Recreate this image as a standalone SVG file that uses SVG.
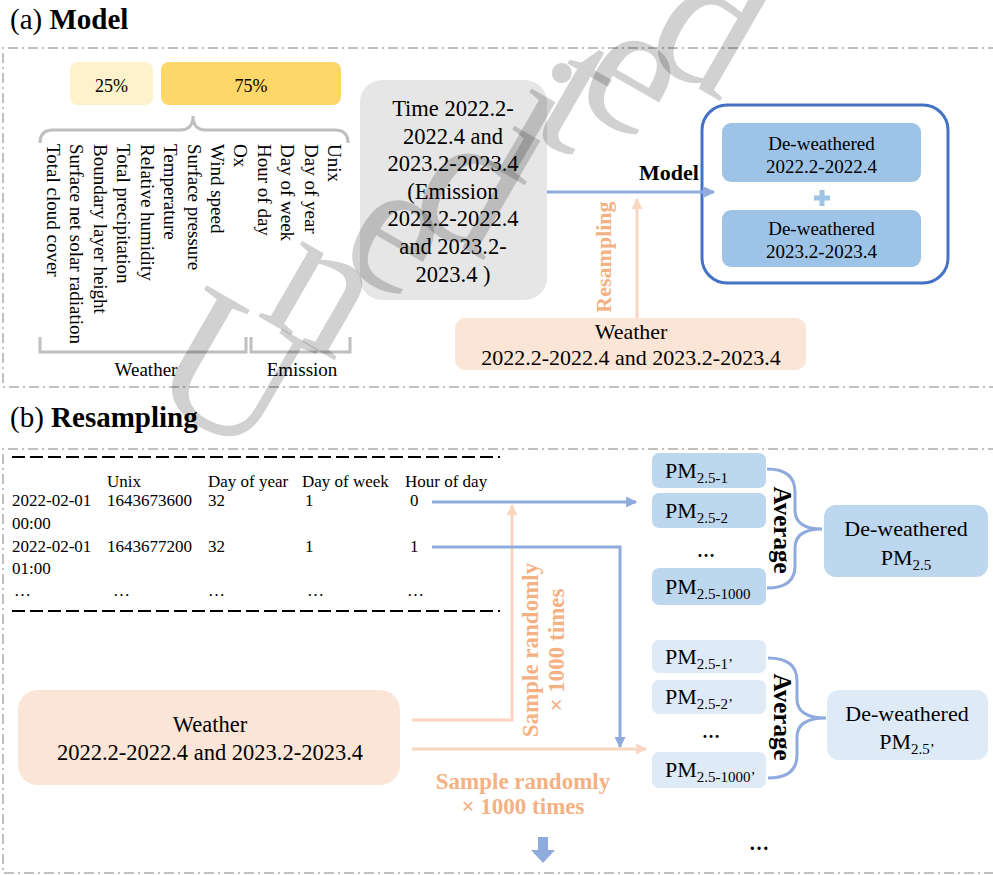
<svg xmlns="http://www.w3.org/2000/svg" width="993" height="875" viewBox="0 0 993 875" font-family="'Liberation Serif','Times New Roman',serif">
<defs>
<style>
text{font-family:"Liberation Serif","Times New Roman",serif;fill:#000}
.b{font-weight:bold}
.frame{fill:none;stroke:#c0c0c0;stroke-width:2;stroke-dasharray:10 4 2 4}
.gbr{fill:none;stroke:#bfbfbf;stroke-width:3}
.blue{fill:none;stroke:#8faadc;stroke-width:3}
.peach{fill:none;stroke:#f9d6c0;stroke-width:3}
.ptxt{fill:#f4b183;font-weight:bold}
.pm1{fill:#bdd7ee}
.pm2{fill:#deebf7}
.tbl{font-size:17px}
.col{font-size:19px}
.pm{font-size:22px}
.sub{font-size:15px}
</style>
<marker id="ab" viewBox="0 0 10 10" refX="9" refY="5" markerUnits="userSpaceOnUse" markerWidth="12" markerHeight="11" orient="auto"><path d="M0,0 L10,5 L0,10 z" fill="#8faadc"/></marker>
<marker id="ap" viewBox="0 0 10 10" refX="9" refY="5" markerUnits="userSpaceOnUse" markerWidth="12" markerHeight="11" orient="auto"><path d="M0,0 L10,5 L0,10 z" fill="#f9d6c0"/></marker>
</defs>
<rect width="993" height="875" fill="#fff"/>

<!-- Section (a) -->
<g id="title-a"><text x="10" y="29" font-size="29">(a) <tspan class="b">Model</tspan></text></g>
<path class="frame" d="M998,48 H3 V387 H998"/>

<g id="share-25"><rect x="70" y="62" width="83" height="43" rx="8" fill="#fef2cc"/><text x="111.5" y="92" font-size="18" text-anchor="middle">25%</text></g>
<g id="share-75"><rect x="161" y="62" width="180" height="43" rx="8" fill="#fdd868"/><text x="251" y="92" font-size="18" text-anchor="middle">75%</text></g>
<g id="brace-top"><path class="gbr" d="M40,143 Q40,130 53,130 L180,130 Q193,130 193,116 Q193,130 206,130 L335,130 Q348,130 348,143"/></g>

<g id="variables" class="col">
<text transform="translate(47,144) rotate(90)">Total cloud cover</text>
<text transform="translate(70.4,144) rotate(90)">Surface net solar radiation</text>
<text transform="translate(93.8,144) rotate(90)">Boundary layer height</text>
<text transform="translate(117.3,144) rotate(90)">Total precipitation</text>
<text transform="translate(140.7,144) rotate(90)">Relative humidity</text>
<text transform="translate(164.1,144) rotate(90)">Temperature</text>
<text transform="translate(187.5,144) rotate(90)">Surface pressure</text>
<text transform="translate(210.9,144) rotate(90)">Wind speed</text>
<text transform="translate(234.3,144) rotate(90)">Ox</text>
<text transform="translate(257.8,144) rotate(90)">Hour of day</text>
<text transform="translate(281.2,144) rotate(90)">Day of week</text>
<text transform="translate(304.6,144) rotate(90)">Day of year</text>
<text transform="translate(328,144) rotate(90)">Unix</text>
</g>
<g id="bracket-weather"><path class="gbr" d="M40,337 V352 H246 V337"/><text x="146" y="376" font-size="19" text-anchor="middle">Weather</text></g>
<g id="bracket-emission"><path class="gbr" d="M251,337 V352 H350 V337"/><text x="302" y="376" font-size="19" text-anchor="middle">Emission</text></g>

<g id="time-box"><rect x="360" y="80" width="187" height="220" rx="22" fill="#e7e6e6"/>
<g font-size="22.5" text-anchor="middle">
<text x="453" y="116">Time 2022.2-</text>
<text x="453" y="143.6">2022.4 and</text>
<text x="453" y="171.2">2023.2-2023.4</text>
<text x="453" y="198.8">(Emission</text>
<text x="453" y="226.4">2022.2-2022.4</text>
<text x="453" y="254">and 2023.2-</text>
<text x="453" y="281.6">2023.4 )</text>
</g></g>

<g id="weather-a"><rect x="455" y="318" width="351" height="52" rx="10" fill="#fbe5d6"/>
<text x="631" y="339" font-size="22" text-anchor="middle">Weather</text>
<text x="631" y="365" font-size="22" text-anchor="middle">2022.2-2022.4 and 2023.2-2023.4</text></g>

<g id="result-a">
<rect x="702" y="105" width="246" height="178" rx="25" fill="#fff" stroke="#4472c4" stroke-width="3"/>
<rect x="722" y="123" width="199" height="59" rx="9" fill="#9dc3e6"/>
<text x="821.5" y="150" font-size="19" text-anchor="middle">De-weathered</text>
<text x="821.5" y="173" font-size="19" text-anchor="middle">2022.2-2022.4</text>
<path d="M822,190 V206 M814,198 H830" stroke="#9dc3e6" stroke-width="5"/>
<rect x="722" y="210" width="199" height="57" rx="9" fill="#9dc3e6"/>
<text x="821.5" y="235" font-size="19" text-anchor="middle">De-weathered</text>
<text x="821.5" y="258" font-size="19" text-anchor="middle">2023.2-2023.4</text>
</g>

<g id="connectors-a">
<line class="blue" x1="547" y1="192" x2="714" y2="192" marker-end="url(#ab)"/>
<text x="669" y="180" font-size="22" class="b" text-anchor="middle">Model</text>
<line class="peach" x1="637" y1="318" x2="637" y2="199" marker-end="url(#ap)"/>
<text class="ptxt" transform="translate(611,257) rotate(-90)" font-size="22" text-anchor="middle">Resampling</text>
</g>

<!-- Section (b) -->
<g id="title-b"><text x="10" y="427" font-size="29">(b) <tspan class="b">Resampling</tspan></text></g>
<path class="frame" d="M998,449 H3 V873 H998"/>

<g id="table">
<path d="M12,457 H500 M12,611 H500" stroke="#000" stroke-width="1.8" stroke-dasharray="13 5" fill="none"/>
<g class="tbl">
<text x="107" y="487">Unix</text><text x="208" y="487">Day of year</text><text x="302" y="487">Day of week</text><text x="405" y="487">Hour of day</text>
<text x="12" y="506">2022-02-01</text><text x="107" y="506">1643673600</text><text x="208" y="506">32</text><text x="305" y="506">1</text><text x="410" y="506">0</text>
<text x="12" y="529">00:00</text>
<text x="12" y="552">2022-02-01</text><text x="107" y="552">1643677200</text><text x="208" y="552">32</text><text x="305" y="552">1</text><text x="410" y="552">1</text>
<text x="12" y="574">01:00</text>
<text x="14" y="596">…</text><text x="113" y="596">…</text><text x="208" y="596">…</text><text x="307" y="596">…</text><text x="407" y="596">…</text>
</g></g>

<g id="weather-b"><rect x="18" y="690" width="382" height="95" rx="20" fill="#fbe5d6"/>
<text x="210" y="732" font-size="22.5" text-anchor="middle">Weather</text>
<text x="210" y="760" font-size="22.5" text-anchor="middle">2022.2-2022.4 and 2023.2-2023.4</text></g>

<g id="connectors-b">
<polyline class="peach" points="412,720 512,720 512,505" marker-end="url(#ap)"/>
<line class="peach" x1="412" y1="749" x2="646" y2="749" marker-end="url(#ap)"/>
<line class="blue" x1="432" y1="502" x2="636" y2="502" marker-end="url(#ab)"/>
<polyline class="blue" points="432,547 620,547 620,747" marker-end="url(#ab)"/>
<text class="ptxt" transform="translate(538,650) rotate(-90)" font-size="23" text-anchor="middle">Sample randomly</text>
<text class="ptxt" transform="translate(564,650) rotate(-90)" font-size="23" text-anchor="middle">× 1000 times</text>
<text class="ptxt" x="523" y="789" font-size="23" text-anchor="middle">Sample randomly</text>
<text class="ptxt" x="523" y="814" font-size="23" text-anchor="middle">× 1000 times</text>
<path d="M538,837 H548 V850 H555 L543,863 L531,850 H538 Z" fill="#8faadc"/>
</g>

<g id="pm-group-1">
<rect class="pm1" x="652" y="453" width="114" height="35" rx="7"/>
<text class="pm" x="665" y="478">PM<tspan class="sub" dy="5">2.5-1</tspan></text>
<rect class="pm1" x="652" y="493" width="114" height="35" rx="7"/>
<text class="pm" x="665" y="518">PM<tspan class="sub" dy="5">2.5-2</tspan></text>
<text x="706" y="557" font-size="18" class="b" text-anchor="middle">…</text>
<rect class="pm1" x="652" y="568" width="114" height="37" rx="7"/>
<text class="pm" x="665" y="594">PM<tspan class="sub" dy="5">2.5-1000</tspan></text>
<path class="blue" d="M767,469 Q795,469 795,492 L795,510 Q795,529 822,529 Q795,529 795,548 L795,566 Q795,588 767,588"/>
<text class="b" transform="translate(774,530) rotate(90)" font-size="25" text-anchor="middle">Average</text>
<rect class="pm1" x="824" y="505" width="164" height="72" rx="12"/>
<text x="906" y="536" font-size="22" text-anchor="middle">De-weathered</text>
<text x="906" y="565" font-size="22" text-anchor="middle">PM<tspan class="sub" dy="5">2.5</tspan></text>
</g>

<g id="pm-group-2">
<rect class="pm2" x="652" y="640" width="114" height="33" rx="7"/>
<text class="pm" x="665" y="664">PM<tspan class="sub" dy="5">2.5-1’</tspan></text>
<rect class="pm2" x="652" y="680" width="114" height="34" rx="7"/>
<text class="pm" x="665" y="704">PM<tspan class="sub" dy="5">2.5-2’</tspan></text>
<text x="711" y="738" font-size="18" class="b" text-anchor="middle">…</text>
<rect class="pm2" x="652" y="752" width="114" height="36" rx="7"/>
<text class="pm" x="665" y="777">PM<tspan class="sub" dy="5">2.5-1000’</tspan></text>
<path class="blue" d="M768,658 Q797,658 797,681 L797,699 Q797,718 826,718 Q797,718 797,737 L797,755 Q797,778 768,778"/>
<text class="b" transform="translate(774,717) rotate(90)" font-size="25" text-anchor="middle">Average</text>
<rect class="pm2" x="827" y="690" width="161" height="70" rx="12"/>
<text x="907" y="721" font-size="22" text-anchor="middle">De-weathered</text>
<text x="907" y="749" font-size="22" text-anchor="middle">PM<tspan class="sub" dy="5">2.5’</tspan></text>
</g>
<g id="more"><text x="759" y="850" font-size="20" class="b" text-anchor="middle">…</text></g>

<g id="watermark"><text transform="translate(141,391) rotate(-34)" rotate="64" font-size="190" fill="#000" fill-opacity="0.18">Unedited</text></g>
</svg>
